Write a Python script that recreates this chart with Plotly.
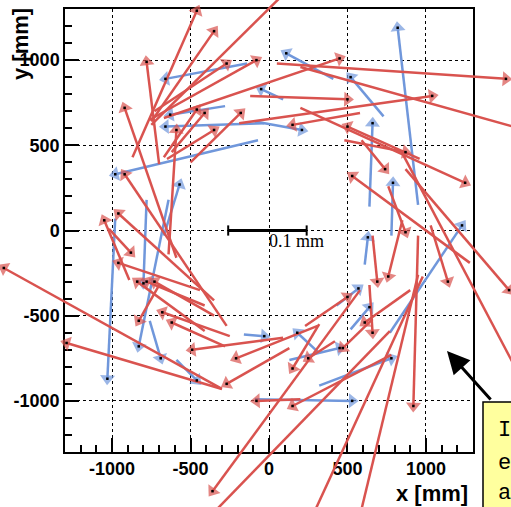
import plotly.graph_objects as go

# ---------------- data (mm) ----------------
x_range = [-1300, 1300]
y_range = [-1300, 1300]
tick_vals = [-1000, -500, 0, 500, 1000]
tick_text = ["-1000", "-500", "0", "500", "1000"]
minor_step = 100

# red arrows: tail (x0,y0) -> head (x1,y1)
red_x0 = [-870, -750, -750, -760, -730, -700, -590, -670, -620, -500, -650, -640,
          -270, -350, -890, -1020, -410, -350, -440, -250, -280, -700, -410,
          -300, -300, 310, 130, 90, 200, 780, 660, 420, 320, 580, 770, 980, 950,
          950, 870, 840, 200, 960, 590, 1280, 760, 50, 200, -120, -190, -670,
          580, 1030, 660, 850, 230, 900, 640, 480]
red_y0 = [430, 640, 620, 650, 700, 390, -160, 430, 460, 400, 420, -140,
          -560, -410, -290, 10, -590, -500, -350, -620, -680, -320, -440,
          -930, -930, -560, -690, -630, -990, -730, -520, -650, -550, -350, -590, -270, -260,
          -30, 360, 470, 720, 420, 530, -190, 260, 980, 960, 790, 630, 660,
          690, 30, -30, 60, -560, -350, -320, 530]
red_x1 = [-460, -350, 140, -80, -270, -780, -920, -460, -410, -180, -350, -590,
          -920, -960, -1050, -880, -840, -730, -960, -680, -620, -830, -780,
          -1290, -1690, -210, -270, -490, -80, 150, 470, 250, 150, -360, -410, 260, 570,
          920, 1530, 1670, 1250, 500, 740, 530, 870, 1510, 1670, 500, 1040, 450,
          150, 1140, 690, 760, 500, 610, 660, 870]
red_y1 = [1290, 1170, 1430, 1000, 980, 990, 720, 710, 690, 690, 590, 590,
          330, 100, 60, -130, -300, -300, -190, -480, -540, -530, -300,
          -660, -220, -750, -900, -700, -1000, -1030, -690, -750, -810, -1530, -1710, -1710, -1710,
          -1030, -350, -980, 280, 610, 360, 320, -10, 890, 580, 770, 790, 1010,
          620, -300, -300, -270, -390, -540, -600, 460]

# blue arrows
blue_x0 = [-140, -280, -30, -670, -70, -980, -780, -640, -760, -590, -90, -160,
           320, 130, 320, 770, 640, 780, 610, 950, 90, 410, 730, -90, 430, 520]
blue_y0 = [980, 730, 630, -30, 530, 70, 180, 180, -530, -760, -990, -610,
           -720, -760, -910, -600, 140, -30, -200, 150, 770, 890, 670, 640, -440, -580]
blue_x1 = [-660, -630, -660, -570, -980, -1030, -800, -830, -690, -460, 530, -30,
           180, 450, 780, 1230, 660, 790, 630, 820, -50, 110, 520, 210, 570, 640]
blue_y1 = [890, 680, 610, 270, 330, -870, -310, -680, -750, -880, -1000, -620,
           -600, -690, -750, 30, 630, 280, -40, 1190, 830, 1040, 900, 590, -340, -450]

# scale bar: 0.1 mm displacement drawn as 500 mm on the map
bar_x = [-260, 240]
bar_y = 0
bar_label = "0.1 mm"

RED = "#d9534f"
BLUE = "#7097db"

# ---------------- layout geometry ----------------
W, H = 511, 507
FL, FR, FT, FB = 65, 473, 9, 452
xdom = [FL / W, FR / W]
ydom = [1 - FB / H, 1 - FT / H]
sx = (FR - FL) / (x_range[1] - x_range[0])
sy = (FB - FT) / (y_range[1] - y_range[0])
x2_range = [x_range[0] - FL / sx, x_range[1] + (W - FR) / sx]
y2_range = [y_range[0] - (H - FB) / sy, y_range[1] + FT / sy]

HEAD = 13


def build(x0, y0, x1, y1):
    xs, ys, sz = [], [], []
    for a, b, c, d in zip(x0, y0, x1, y1):
        xs += [a, c, None]
        ys += [b, d, None]
        sz += [0, HEAD, 0]
    return xs, ys, sz


fig = go.Figure()

for (x0, y0, x1, y1, col) in [(blue_x0, blue_y0, blue_x1, blue_y1, BLUE),
                              (red_x0, red_y0, red_x1, red_y1, RED)]:
    xs, ys, sz = build(x0, y0, x1, y1)
    fig.add_trace(go.Scatter(
        x=xs, y=ys, xaxis="x2", yaxis="y2", mode="lines+markers",
        line=dict(color=col, width=2.5),
        marker=dict(symbol="triangle-up", size=sz, color=col,
                    angleref="previous", line=dict(width=0)),
        hoverinfo="skip", showlegend=False, connectgaps=False))

# black dots at arrow heads
fig.add_trace(go.Scatter(
    x=blue_x1 + red_x1, y=blue_y1 + red_y1, xaxis="x2", yaxis="y2",
    mode="markers", marker=dict(symbol="square", size=2.5, color="black"),
    hoverinfo="skip", showlegend=False))

minor_vals = [v for v in range(x_range[0], x_range[1] + 1, minor_step) if v not in tick_vals]

axis_common = dict(
    tickmode="array", tickvals=tick_vals, ticktext=tick_text,
    ticks="inside", ticklen=14, tickwidth=1.5, tickcolor="black",
    showline=True, linecolor="black", linewidth=1.5, mirror=True,
    showgrid=True, gridcolor="black", gridwidth=1, griddash="dot",
    zeroline=False, automargin=False, fixedrange=True,
    tickfont=dict(family="Liberation Sans", size=18, color="black", weight="bold"),
    minor=dict(tickmode="array", tickvals=minor_vals, ticks="inside", ticklen=7,
               tickwidth=1.5, tickcolor="black", showgrid=False),
)

xa = dict(axis_common); xa.update(range=x_range, domain=xdom, anchor="y")
ya = dict(axis_common); ya.update(range=y_range, domain=ydom, anchor="x")

fig.update_layout(
    width=W, height=H, margin=dict(l=0, r=0, t=0, b=0),
    paper_bgcolor="white", plot_bgcolor="rgba(0,0,0,0)",
    template="none", showlegend=False,
    xaxis=xa, yaxis=ya,
    xaxis2=dict(domain=[0, 1], range=x2_range, anchor="y2", visible=False,
                fixedrange=True, showgrid=False, zeroline=False),
    yaxis2=dict(domain=[0, 1], range=y2_range, anchor="x2", visible=False,
                fixedrange=True, showgrid=False, zeroline=False),
)

# scale bar
fig.add_shape(type="line", xref="x", yref="y", x0=bar_x[0], x1=bar_x[1], y0=bar_y, y1=bar_y,
              line=dict(color="black", width=3))
for bx in bar_x:
    fig.add_shape(type="line", xref="x", yref="y", x0=bx, x1=bx, y0=bar_y - 30, y1=bar_y + 30,
                  line=dict(color="black", width=2))
fig.add_annotation(x=(bar_x[0] + bar_x[1]) / 2, y=bar_y - 60, xref="x", yref="y",
                   text=bar_label, showarrow=False, xanchor="left", yanchor="middle",
                   font=dict(family="Liberation Serif", size=18, color="black"))

# axis titles
fig.add_annotation(x=470 / W, y=1 - 493 / H, xref="paper", yref="paper", text="x [mm]",
                   showarrow=False, xanchor="right", yanchor="middle",
                   font=dict(family="Liberation Sans", size=22, color="black", weight="bold"))
fig.add_annotation(x=21 / W, y=1 - 6 / H, xref="paper", yref="paper", text="y [mm]",
                   textangle=-90, showarrow=False, xanchor="center", yanchor="top",
                   font=dict(family="Liberation Sans", size=22, color="black", weight="bold"))

# note box with pointer
fig.add_shape(type="rect", xref="paper", yref="paper", x0=483 / W, x1=1.1, y0=-0.1, y1=1 - 402 / H,
              fillcolor="#ffff9e", line=dict(color="black", width=1.5), layer="above")
for ch, yy in [("I", 430), ("e", 463), ("a", 493)]:
    fig.add_annotation(x=496 / W, y=1 - yy / H, xref="paper", yref="paper", text=ch,
                       showarrow=False, xanchor="left", yanchor="middle",
                       font=dict(family="Liberation Mono", size=22, color="black"))
fig.add_annotation(x=447 / W, y=1 - 351 / H, xref="paper", yref="paper", text="",
                   showarrow=True, ax=45, ay=50, arrowhead=2, arrowsize=1.5,
                   arrowwidth=3, arrowcolor="black")

fig.write_html("out.html")
